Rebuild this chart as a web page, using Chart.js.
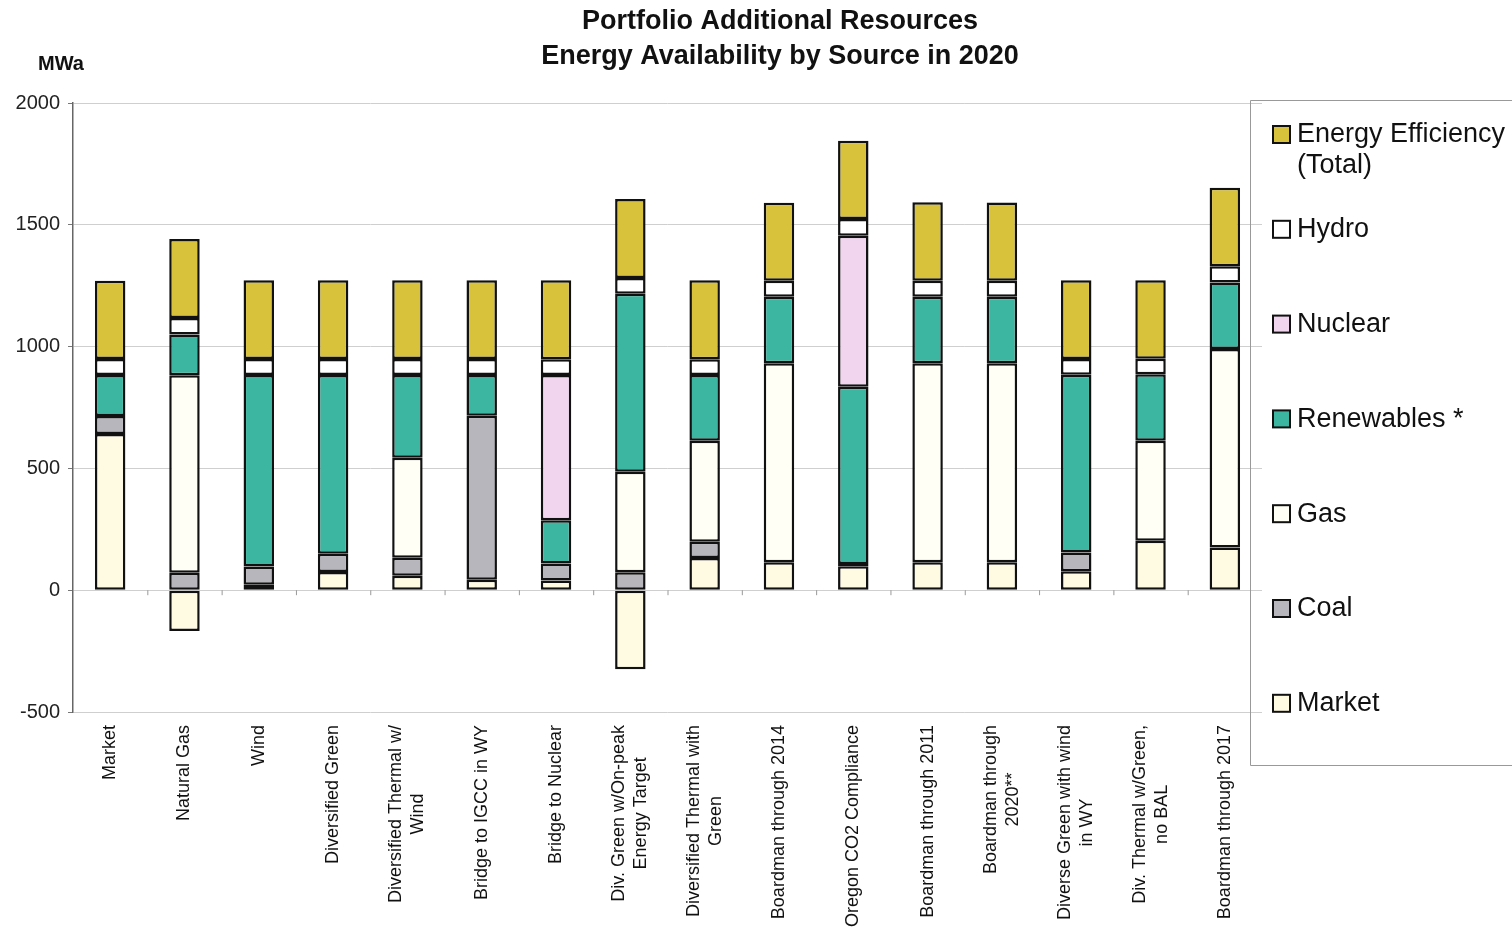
<!DOCTYPE html>
<html>
<head>
<meta charset="utf-8">
<script src="https://cdn.jsdelivr.net/npm/chart.js@4.4.1/dist/chart.umd.min.js"></script>
<style>
  body { margin: 0; background: #fff; }
</style>
</head>
<body>
<canvas id="chart" width="1512" height="928"></canvas>
<script>
// Portfolios (x categories), multi-line as in the source
const portfolios = [
  ["Market"], ["Natural Gas"], ["Wind"], ["Diversified Green"],
  ["Diversified Thermal w/", "Wind"], ["Bridge to IGCC in WY"], ["Bridge to Nuclear"],
  ["Div. Green w/On-peak", "Energy Target"], ["Diversified Thermal with", "Green"],
  ["Boardman through 2014"], ["Oregon CO2 Compliance"], ["Boardman through 2011"],
  ["Boardman through", "2020**"], ["Diverse Green with wind", "in WY"],
  ["Div. Thermal w/Green,", "no BAL"], ["Boardman through 2017"]
];

// MWa by source (stack order bottom -> top)
const market     = [641, -168, 22, 75, 59, 43, 40, -325, 132, 115, 98, 115, 115, 78, 203, 175];
const coal       = [74, 72, 75, 75, 74, 673, 70, 74, 67, null, 10, null, null, 77, null, null];
const gas        = [null, 810, null, null, 411, null, null, 412, 415, 817, null, 817, 817, null, 411, 815];
const renewables = [168, 168, 786, 733, 339, 167, 177, 731, 269, 273, 727, 273, 273, 729, 272, 273];
const nuclear    = [null, null, null, null, null, null, 596, null, null, null, 620, null, null, null, null, null];
const hydro      = [66, 67, 66, 66, 66, 66, 65, 65, 65, 65, 69, 65, 65, 65, 64, 67];
const efficiency = [321, 325, 323, 323, 323, 323, 324, 324, 324, 321, 321, 323, 322, 323, 322, 322];

const yMin = -500, yMax = 2000, yStep = 500;

const FONT = "Arial, 'Liberation Sans', Helvetica, sans-serif";

function ds(label, data, color) {
  return {
    label, data,
    backgroundColor: color,
    borderColor: "#111",
    borderWidth: 2.5,
    borderSkipped: false,
    categoryPercentage: 1,
    barPercentage: 0.41
  };
}

const datasets = [
  ds("Market", market, "#fffbe3"),
  ds("Coal", coal, "#b6b6bc"),
  ds("Gas", gas, "#fffff6"),
  ds("Renewables *", renewables, "#3db6a1"),
  ds("Nuclear", nuclear, "#f1d5ef"),
  ds("Hydro", hydro, "#ffffff"),
  ds("Energy Efficiency|(Total)", efficiency, "#d8c23c")
];

// titles, rotated category labels, zero-line ticks and boxed legend
const decorations = {
  id: "decorations",
  afterDraw(chart) {
    const ctx = chart.ctx;
    const x = chart.scales.x, y = chart.scales.y;
    ctx.save();

    ctx.fillStyle = "#111";
    ctx.textAlign = "center";
    ctx.textBaseline = "middle";
    ctx.font = "bold 27px " + FONT;
    ctx.fillText("Portfolio Additional Resources", 780, 22);
    ctx.fillText("Energy Availability by Source in 2020", 780, 57);
    ctx.font = "bold 20px " + FONT;
    ctx.fillText("MWa", 61, 64);

    // small ticks where the category axis crosses zero
    const y0 = y.getPixelForValue(0);
    ctx.strokeStyle = "#999";
    ctx.lineWidth = 1;
    for (let i = 0; i < portfolios.length - 1; i++) {
      const bx = (x.getPixelForValue(i) + x.getPixelForValue(i + 1)) / 2;
      ctx.beginPath();
      ctx.moveTo(bx + 0.5, y0);
      ctx.lineTo(bx + 0.5, y0 + 5);
      ctx.stroke();
    }

    // category labels, rotated, lines centred on each other
    ctx.font = "18px " + FONT;
    ctx.fillStyle = "#111";
    const top = y.bottom + 13;
    const lh = 22;
    portfolios.forEach((lines, i) => {
      const cx = x.getPixelForValue(i);
      const w = Math.max(...lines.map(t => ctx.measureText(t).width));
      ctx.save();
      ctx.translate(cx, top + w / 2);
      ctx.rotate(-Math.PI / 2);
      lines.forEach((t, j) => {
        ctx.fillText(t, 0, (j - (lines.length - 1) / 2) * lh);
      });
      ctx.restore();
    });

    // legend box
    ctx.strokeStyle = "#999";
    ctx.lineWidth = 1;
    ctx.beginPath();
    ctx.moveTo(1512, 100.5);
    ctx.lineTo(1250.5, 100.5);
    ctx.lineTo(1250.5, 765.5);
    ctx.lineTo(1512, 765.5);
    ctx.stroke();

    ctx.font = "27px " + FONT;
    ctx.textAlign = "left";
    const items = chart.data.datasets.slice().reverse();
    items.forEach((d, k) => {
      const cy = 134 + k * 94.8;
      ctx.fillStyle = d.backgroundColor;
      ctx.fillRect(1273, cy - 8, 17, 17);
      ctx.strokeStyle = "#111";
      ctx.lineWidth = 2;
      ctx.strokeRect(1273, cy - 8, 17, 17);
      ctx.fillStyle = "#111";
      d.label.split("|").forEach((t, j) => {
        ctx.fillText(t, 1297, cy + 1 + j * 31);
      });
    });

    ctx.restore();
  }
};

new Chart(document.getElementById("chart"), {
  type: "bar",
  data: { labels: portfolios.map(l => l.join(" ")), datasets },
  options: {
    responsive: false,
    animation: false,
    layout: { padding: { top: 103, right: 250, bottom: 0, left: 0 } },
    plugins: {
      legend: { display: false },
      title: { display: false },
      tooltip: { enabled: false }
    },
    scales: {
      x: {
        stacked: true,
        grid: { display: false },
        border: { display: false },
        ticks: { display: false },
        afterFit(scale) { scale.height = 216; }
      },
      y: {
        stacked: true,
        min: yMin,
        max: yMax,
        ticks: {
          stepSize: yStep,
          color: "#222",
          font: { size: 20, family: FONT },
          padding: 8,
          callback: v => String(v)
        },
        grid: { color: "#cfcfcf", lineWidth: 1, tickLength: 5, tickColor: "#777" },
        border: { color: "#666", width: 1.5 },
        afterFit(scale) { scale.width = 73; }
      }
    }
  },
  plugins: [decorations]
});
</script>
</body>
</html>
